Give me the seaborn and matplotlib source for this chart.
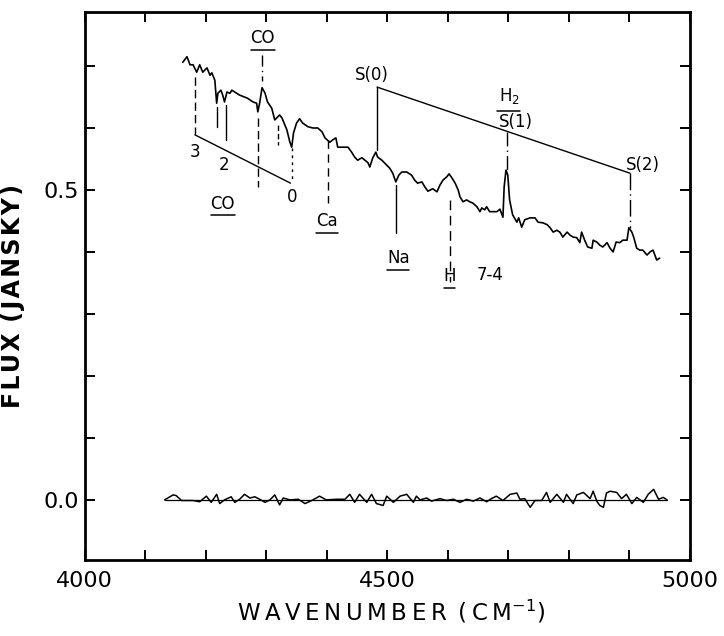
import matplotlib
matplotlib.use("Agg")
import matplotlib.pyplot as plt
import seaborn as sns
import pandas as pd
import numpy as np

# ---------------- data ----------------
wn_upper = [4162, 4169, 4174, 4179, 4185, 4190, 4195, 4202, 4207, 4210, 4215, 4218, 4220, 4225,
            4228, 4231, 4235, 4240, 4243, 4251, 4256, 4264, 4269, 4278, 4284, 4286, 4289, 4293,
            4298, 4302, 4309, 4314, 4319, 4322, 4326, 4334, 4339, 4342, 4345, 4350, 4355, 4360,
            4369, 4377, 4385, 4392, 4397, 4405, 4410, 4415, 4418, 4426, 4435, 4441, 4446, 4451,
            4458, 4463, 4468, 4471, 4476, 4481, 4484, 4491, 4499, 4504, 4509, 4514, 4519, 4524,
            4532, 4540, 4545, 4550, 4557, 4562, 4567, 4575, 4582, 4587, 4592, 4598, 4602, 4607,
            4612, 4617, 4620, 4625, 4631, 4636, 4641, 4648, 4653, 4656, 4661, 4664, 4669, 4674,
            4681, 4686, 4691, 4693, 4696, 4699, 4702, 4707, 4714, 4717, 4722, 4727, 4736, 4744,
            4749, 4757, 4764, 4769, 4774, 4780, 4785, 4790, 4797, 4802, 4807, 4813, 4818, 4821,
            4826, 4831, 4838, 4840, 4846, 4851, 4856, 4863, 4868, 4873, 4878, 4884, 4889, 4896,
            4899, 4904, 4907, 4912, 4917, 4922, 4929, 4934, 4939, 4945, 4950]
flux_upper = [0.706, 0.715, 0.702, 0.702, 0.690, 0.702, 0.690, 0.697, 0.685, 0.689, 0.677, 0.640,
              0.656, 0.661, 0.653, 0.642, 0.658, 0.656, 0.661, 0.656, 0.653, 0.650, 0.648, 0.642,
              0.640, 0.626, 0.640, 0.665, 0.656, 0.642, 0.632, 0.613, 0.618, 0.621, 0.616, 0.597,
              0.577, 0.569, 0.592, 0.608, 0.615, 0.608, 0.602, 0.600, 0.600, 0.594, 0.584, 0.577,
              0.581, 0.584, 0.569, 0.569, 0.569, 0.561, 0.553, 0.548, 0.552, 0.548, 0.544, 0.537,
              0.552, 0.561, 0.553, 0.548, 0.540, 0.535, 0.527, 0.513, 0.524, 0.529, 0.529, 0.524,
              0.516, 0.511, 0.513, 0.505, 0.498, 0.502, 0.497, 0.508, 0.516, 0.521, 0.526, 0.519,
              0.511, 0.500, 0.489, 0.481, 0.484, 0.481, 0.479, 0.473, 0.465, 0.471, 0.468, 0.473,
              0.465, 0.465, 0.465, 0.469, 0.456, 0.505, 0.532, 0.524, 0.484, 0.460, 0.448, 0.455,
              0.440, 0.452, 0.455, 0.455, 0.448, 0.447, 0.444, 0.439, 0.432, 0.435, 0.432, 0.424,
              0.432, 0.427, 0.424, 0.423, 0.415, 0.432, 0.419, 0.408, 0.406, 0.419, 0.416, 0.411,
              0.408, 0.415, 0.406, 0.400, 0.416, 0.415, 0.419, 0.419, 0.439, 0.432, 0.424, 0.406,
              0.403, 0.403, 0.395, 0.400, 0.403, 0.387, 0.390]

wn_lower = [4132, 4146, 4151, 4160, 4179, 4190, 4201, 4209, 4218, 4223, 4231, 4242, 4248, 4256,
            4264, 4273, 4281, 4289, 4298, 4306, 4314, 4322, 4328, 4339, 4353, 4364, 4377, 4388,
            4399, 4416, 4430, 4438, 4446, 4454, 4466, 4474, 4482, 4493, 4499, 4510, 4521, 4532,
            4543, 4548, 4554, 4565, 4573, 4587, 4598, 4609, 4620, 4631, 4642, 4653, 4664, 4672,
            4680, 4691, 4703, 4714, 4719, 4727, 4736, 4744, 4755, 4763, 4769, 4780, 4791, 4796,
            4807, 4813, 4824, 4835, 4840, 4846, 4851, 4857, 4862, 4868, 4879, 4887, 4895, 4904,
            4912, 4923, 4931, 4940, 4948, 4956, 4962]
flux_lower = [0.000, 0.008, 0.007, -0.001, -0.001, -0.003, 0.006, -0.004, 0.009, -0.006, 0.000,
              0.005, -0.004, 0.001, 0.009, 0.003, 0.005, 0.001, -0.004, 0.000, 0.008, -0.008,
              0.003, 0.000, 0.001, -0.006, 0.000, 0.006, 0.000, 0.001, 0.001, 0.009, -0.004,
              0.009, -0.004, 0.009, -0.006, -0.009, 0.006, -0.004, 0.006, 0.009, -0.004, 0.006,
              0.000, 0.003, -0.002, 0.002, -0.001, 0.001, -0.004, 0.001, -0.002, 0.003, -0.003,
              0.002, 0.006, -0.001, 0.009, 0.011, 0.001, 0.002, -0.012, -0.001, -0.001, 0.012,
              -0.004, 0.009, -0.004, 0.009, -0.006, 0.008, 0.012, 0.002, 0.014, -0.002, -0.009,
              -0.012, 0.011, 0.014, 0.012, 0.002, 0.009, -0.006, 0.004, -0.004, 0.009, 0.017,
              0.001, 0.004, 0.000]

# H2 lines: S(0), S(1), S(2)
h2_wn = [4483, 4697, 4901]
h2_top = [0.666, 0.594, 0.527]
h2_bot = [0.565, 0.529, 0.439]

# CO band-head marks (3, 2, ..., 0)
co_wn = [4183, 4218, 4233, 4286, 4319, 4342]
co_top = [0.682, 0.634, 0.637, 0.616, 0.605, 0.568]
co_bot = [0.591, 0.602, 0.580, 0.505, 0.572, 0.513]
co_styles = [(0, (6, 3)), "-", "-", (0, (6, 3)), (0, (4, 2)), (0, (2, 3))]
co_slant_wn = [4182, 4340]
co_slant_flux = [0.589, 0.511]

# other features
feat_wn = [4293, 4402, 4514, 4603]
feat_top = [0.718, 0.581, 0.508, 0.484]
feat_bot = [0.676, 0.479, 0.431, 0.352]
feat_styles = [(0, (8, 3, 1, 3)), (0, (6, 4)), "-", (0, (7, 4))]

# ---------------- plot ----------------
sns.set_theme(style="ticks")
plt.rcParams["font.family"] = ["DejaVu Sans"]
plt.rcParams["mathtext.fontset"] = "dejavusans"

fig = plt.figure(figsize=(7.24, 6.36), dpi=100)
ax = fig.add_axes([0.117, 0.1195, 0.836, 0.8615])

up = pd.DataFrame({"wn": wn_upper, "flux": flux_upper})
lo = pd.DataFrame({"wn": wn_lower, "flux": flux_lower})
sns.lineplot(data=up, x="wn", y="flux", ax=ax, color="black", lw=1.2, sort=False, estimator=None)
sns.lineplot(data=lo, x="wn", y="flux", ax=ax, color="black", lw=1.1, sort=False, estimator=None)
ax.plot([wn_lower[0], wn_lower[-1]], [0, 0], color="black", lw=0.9)

# H2 slanted line and verticals
ax.plot([h2_wn[0], h2_wn[-1]], [h2_top[0], h2_top[-1]], color="black", lw=1.0)
h2_styles = ["-", (0, (10, 3, 1, 3)), (0, (12, 3, 1, 3))]
for w, t, b, s in zip(h2_wn, h2_top, h2_bot, h2_styles):
    ax.plot([w, w], [t, b], color="black", lw=1.0, linestyle=s)

# CO band heads
ax.plot(co_slant_wn, co_slant_flux, color="black", lw=1.0)
for w, t, b, s in zip(co_wn, co_top, co_bot, co_styles):
    ax.plot([w, w], [t, b], color="black", lw=1.0, linestyle=s)

for w, t, b, s in zip(feat_wn, feat_top, feat_bot, feat_styles):
    ax.plot([w, w], [t, b], color="black", lw=1.0, linestyle=s)

# annotations
fs = 12
txt = dict(color="black", ha="center", va="center", fontsize=fs)


def label(x, y, s, hw=None):
    ax.text(x, y, s, **txt)
    if hw is not None:
        ax.plot([x - hw, x + hw], [y - 0.019, y - 0.019], color="black", lw=1.1)


label(4294, 0.745, "CO", 20)
label(4182, 0.561, "3")
label(4230, 0.540, "2")
label(4342, 0.489, "0")
label(4228, 0.478, "CO", 20)
label(4400, 0.450, "Ca", 18)
label(4518, 0.390, "Na", 18)
label(4603, 0.361, "H", 9)
label(4669, 0.363, "7-4")
label(4474, 0.686, "S(0)")
ax.text(4702, 0.652, r"H$_2$", **txt)
ax.plot([4681, 4720], [0.628, 0.628], color="black", lw=1.1)
label(4712, 0.610, "S(1)")
label(4922, 0.540, "S(2)")

# axes styling
ax.set_xlim(4000, 5000)
ax.set_ylim(-0.097, 0.787)
ax.set_xticks(np.arange(4000, 5001, 100))
ax.set_xticklabels(["4000", "", "", "", "", "4500", "", "", "", "", "5000"])
ax.set_yticks(np.arange(0, 0.71, 0.1))
ax.set_yticklabels(["0.0", "", "", "", "", "0.5", "", ""])
ax.tick_params(axis="both", direction="in", top=True, right=True, length=7, width=1.4,
               labelsize=16, colors="black")
ax.tick_params(axis="x", pad=8)
ax.tick_params(axis="y", pad=4)
for sp in ax.spines.values():
    sp.set_linewidth(2.0)
    sp.set_color("black")

ax.set_xlabel("W\u2009A\u2009V\u2009E\u2009N\u2009U\u2009M\u2009B\u2009E\u2009R\u2009 (\u2009C\u2009M$^{-1}$)",
              fontsize=16.5, color="black")
ax.set_ylabel("F\u200aL\u200aU\u200aX\u200a (\u200aJ\u200aA\u200aN\u200aS\u200aK\u200aY\u200a)",
              fontsize=17, fontweight="bold", color="black")
ax.yaxis.set_label_coords(-0.099, 0.482)
ax.xaxis.set_label_coords(0.506, -0.069)

fig.savefig("out.png", dpi=100, facecolor="white")
